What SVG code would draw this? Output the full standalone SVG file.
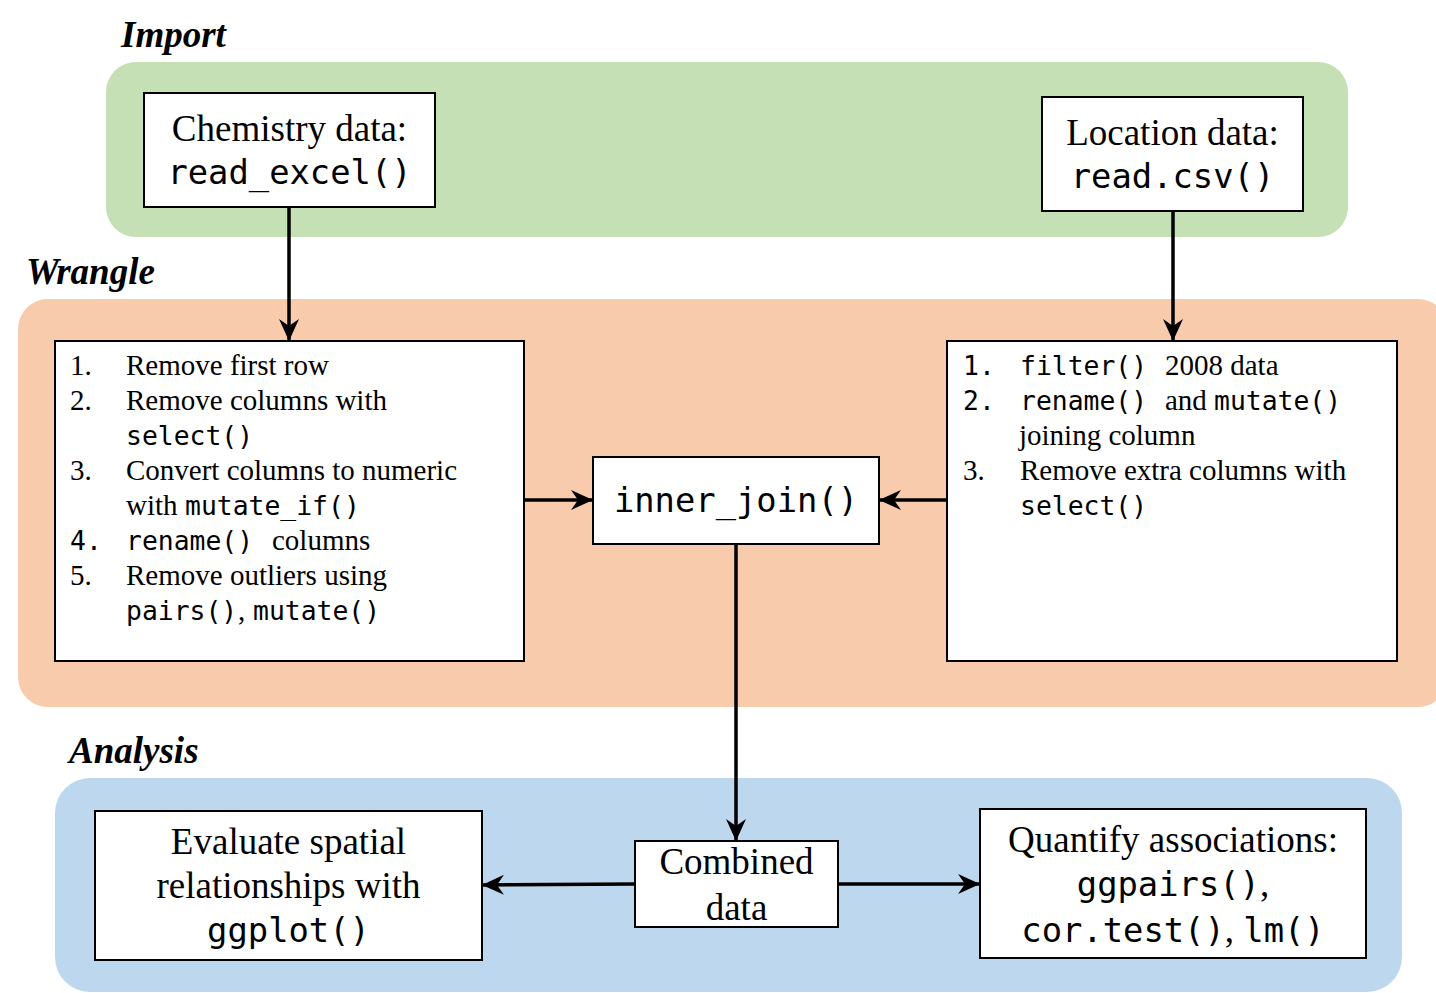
<svg xmlns="http://www.w3.org/2000/svg" width="1436" height="993" viewBox="0 0 1436 993">
<style>
.serif{font-family:"Liberation Serif","Times New Roman",serif;fill:#000}
.mono{font-family:"DejaVu Sans Mono","Liberation Mono",monospace;fill:#000}
.title{font-family:"Liberation Serif","Times New Roman",serif;font-weight:bold;font-style:italic;font-size:37px;fill:#000}
.box{fill:#fff;stroke:#000;stroke-width:2}
.big{font-size:37px}
.bigm{font-size:33.8px}
.ls{font-size:29px}
.lm{font-size:26.4px}
.conn{stroke:#000;stroke-width:3.5;fill:none;marker-end:url(#arr)}
</style>
<defs>
<marker id="arr" markerUnits="userSpaceOnUse" viewBox="0 0 22 22" refX="21" refY="11" markerWidth="22" markerHeight="22" orient="auto">
<path d="M0,1 L22,11 L0,21 L7,11 Z" fill="#000"/>
</marker>
</defs>

<g id="panels">
<rect x="106" y="62" width="1242" height="175" rx="30" ry="30" fill="#C5E0B4"/>
<rect x="18" y="299" width="1430" height="408" rx="30" ry="30" fill="#F8CBAD"/>
<rect x="55" y="778" width="1347" height="214" rx="35" ry="35" fill="#BDD7EE"/>
<text class="title" x="121" y="47">Import</text>
<text class="title" x="26" y="284">Wrangle</text>
<text class="title" x="69" y="763">Analysis</text>
</g>

<g id="connectors">
<line class="conn" x1="289" y1="207" x2="289" y2="340"/>
<line class="conn" x1="1173" y1="211" x2="1173" y2="340"/>
<line class="conn" x1="524" y1="500" x2="592" y2="500"/>
<line class="conn" x1="947" y1="500" x2="880" y2="500"/>
<line class="conn" x1="736" y1="544" x2="736" y2="840"/>
<line class="conn" x1="635" y1="884" x2="483" y2="885"/>
<line class="conn" x1="838" y1="884" x2="979" y2="884"/>
</g>

<g id="chemistry">
<rect class="box" x="144" y="93" width="291" height="114"/>
<text class="serif big" x="289.5" y="141" text-anchor="middle">Chemistry data:</text>
<text class="mono bigm" x="289.5" y="184" text-anchor="middle">read_excel()</text>
</g>

<g id="location">
<rect class="box" x="1042" y="97" width="261" height="114"/>
<text class="serif big" x="1172.5" y="145" text-anchor="middle">Location data:</text>
<text class="mono bigm" x="1172.5" y="188" text-anchor="middle">read.csv()</text>
</g>

<g id="wrangle-left">
<rect class="box" x="55" y="341" width="469" height="320"/>
<text class="serif ls" x="70" y="375">1.</text>
<text class="serif ls" x="126" y="375">Remove first row</text>
<text class="serif ls" x="70" y="410">2.</text>
<text class="serif ls" x="126" y="410">Remove columns with</text>
<text class="mono lm" x="126" y="445">select()</text>
<text class="serif ls" x="70" y="480">3.</text>
<text class="serif ls" x="126" y="480">Convert columns to numeric</text>
<text class="serif ls" x="126" y="515">with</text>
<text class="mono lm" x="185" y="515">mutate_if()</text>
<text class="mono lm" x="70" y="550">4.</text>
<text class="mono lm" x="126" y="550">rename()</text>
<text class="serif ls" x="272" y="550">columns</text>
<text class="serif ls" x="70" y="585">5.</text>
<text class="serif ls" x="126" y="585">Remove outliers using</text>
<text class="mono lm" x="126" y="620">pairs()</text>
<text class="serif ls" x="238" y="620">,</text>
<text class="mono lm" x="253" y="620">mutate()</text>
</g>

<g id="wrangle-right">
<rect class="box" x="947" y="341" width="450" height="320"/>
<text class="mono lm" x="963" y="375">1.</text>
<text class="mono lm" x="1020" y="375">filter()</text>
<text class="serif ls" x="1165" y="375">2008 data</text>
<text class="mono lm" x="963" y="410">2.</text>
<text class="mono lm" x="1020" y="410">rename()</text>
<text class="serif ls" x="1165" y="410">and</text>
<text class="mono lm" x="1214" y="410">mutate()</text>
<text class="serif ls" x="1019" y="445">joining column</text>
<text class="serif ls" x="963" y="480">3.</text>
<text class="serif ls" x="1020" y="480">Remove extra columns with</text>
<text class="mono lm" x="1020" y="515">select()</text>
</g>

<g id="inner-join">
<rect class="box" x="593" y="457" width="286" height="87"/>
<text class="mono bigm" x="736" y="512" text-anchor="middle">inner_join()</text>
</g>

<g id="combined">
<rect class="box" x="635" y="841" width="203" height="86"/>
<text class="serif big" x="736.5" y="874" text-anchor="middle">Combined</text>
<text class="serif big" x="736.5" y="920" text-anchor="middle">data</text>
</g>

<g id="evaluate">
<rect class="box" x="95" y="811" width="387" height="149"/>
<text class="serif big" x="288.5" y="854" text-anchor="middle">Evaluate spatial</text>
<text class="serif big" x="288.5" y="898" text-anchor="middle">relationships with</text>
<text class="mono bigm" x="288.5" y="942" text-anchor="middle">ggplot()</text>
</g>

<g id="quantify">
<rect class="box" x="980" y="809" width="386" height="149"/>
<text class="serif big" x="1173" y="852" text-anchor="middle">Quantify associations:</text>
<text x="1173" y="896" text-anchor="middle"><tspan class="mono bigm">ggpairs()</tspan><tspan class="serif big">,</tspan></text>
<text x="1173" y="942" text-anchor="middle"><tspan class="mono bigm">cor.test()</tspan><tspan class="serif big">, </tspan><tspan class="mono bigm">lm()</tspan></text>
</g>
</svg>
